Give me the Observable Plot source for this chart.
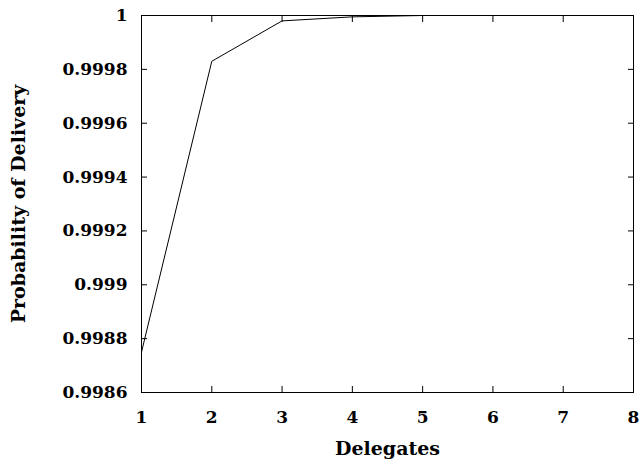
<!DOCTYPE html>
<html>
<head>
<meta charset="utf-8">
<script src="https://cdn.jsdelivr.net/npm/d3@7"></script>
<script src="https://cdn.jsdelivr.net/npm/@observablehq/plot@0.6"></script>
<style>
  html, body { margin: 0; padding: 0; background: #fff; }
  #chart svg text { font-family: "DejaVu Serif", serif !important; font-weight: bold; }
</style>
</head>
<body>
<div id="chart"></div>
<script>
const delegates = [1, 2, 3, 4, 5, 6, 7, 8];
const probability = [0.99875, 0.99983, 0.99998, 0.999995, 1, 1, 1, 1];
const xTicks = [1, 2, 3, 4, 5, 6, 7, 8];
const yTicks = [0.9986, 0.9988, 0.999, 0.9992, 0.9994, 0.9996, 0.9998, 1];
const xTitle = "Delegates";
const yTitle = "Probability of Delivery";

const data = delegates.map((d, i) => ({x: d, y: probability[i]}));
const fmt = d => String(+d.toFixed(4));
const tickFont = {fontFamily: "DejaVu Serif", fontWeight: "bold", fontSize: 17};
const titleFont = {fontFamily: "DejaVu Serif", fontWeight: "bold", fontSize: 19};

const chart = Plot.plot({
  width: 639,
  height: 463,
  marginLeft: 141,
  marginRight: 6,
  marginTop: 15,
  marginBottom: 71,
  style: {background: "#fff", color: "#000"},
  x: {domain: [1, 8]},
  y: {domain: [0.9986, 1]},
  marks: [
    Plot.frame({stroke: "#000", strokeWidth: 1}),
    Plot.axisX(xTicks, {anchor: "bottom", tickSize: -6, tickFormat: () => "", label: null}),
    Plot.axisX(xTicks, {anchor: "top", tickSize: -6, tickFormat: () => "", label: null}),
    Plot.axisY(yTicks, {anchor: "left", tickSize: -6, tickFormat: () => "", label: null}),
    Plot.axisY(yTicks, {anchor: "right", tickSize: -6, tickFormat: () => "", label: null}),
    Plot.axisX(xTicks, {anchor: "bottom", tickSize: 0, tickPadding: 18, tickFormat: fmt, ...tickFont, label: null}),
    Plot.axisY(yTicks, {anchor: "left", tickSize: 0, tickPadding: 14, tickFormat: fmt, ...tickFont, label: null}),
    Plot.axisX(xTicks, {anchor: "bottom", tickSize: 0, tickFormat: () => "", ...titleFont,
      label: xTitle, labelAnchor: "center", labelArrow: "none", labelOffset: 62}),
    Plot.axisY(yTicks, {anchor: "left", tickSize: 0, tickFormat: () => "", ...titleFont,
      label: yTitle, labelAnchor: "center", labelArrow: "none", labelOffset: 130}),
    Plot.line(data, {x: "x", y: "y", stroke: "#000", strokeWidth: 1})
  ]
});
document.getElementById("chart").appendChild(chart);
</script>
</body>
</html>
